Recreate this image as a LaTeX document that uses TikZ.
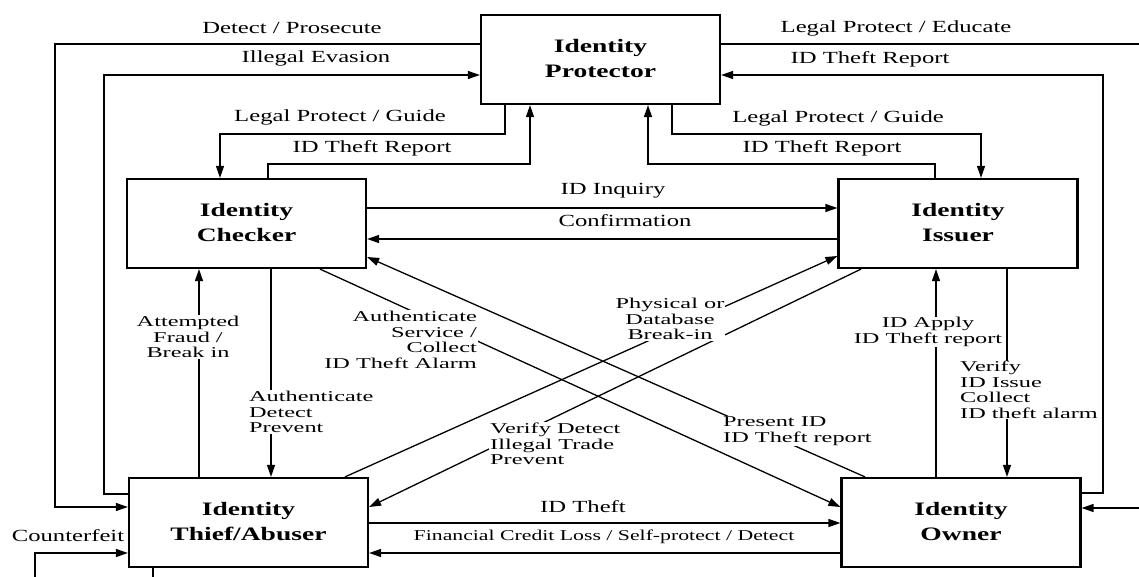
\documentclass[tikz,border=0pt]{standalone}
\usepackage{fontspec}
\setmainfont{Liberation Serif}[FakeStretch=1.45]
\newfontfamily\labfont{Liberation Serif}[FakeStretch=1.62]
\usetikzlibrary{arrows.meta}
\begin{document}
\begin{tikzpicture}[x=1pt,y=-1pt,
  box/.style={draw, line width=2.2pt, minimum width=239pt, minimum height=89pt, inner sep=0pt, align=center, font=\fontsize{19}{26}\selectfont\bfseries},
  conn/.style={line width=1.3pt},
  arr/.style={conn, -{Triangle[length=12pt,width=8pt]}},
  lab/.style={font=\fontsize{17}{14.5}\selectfont, fill=white, inner sep=1pt},
  mlab/.style={font=\labfont\fontsize{15}{15.5}\selectfont, fill=white, inner sep=1pt},
]
\useasboundingbox (0,0) rectangle (1139,577);
% boxes
\node[box] (P) at (600.5,59.5) {\raisebox{3pt}{\begin{tabular}{c}Identity\\[-1pt]Protector\end{tabular}}};
\node[box] (C) at (246.5,223.5) {\raisebox{3pt}{\begin{tabular}{c}Identity\\[-1pt]Checker\end{tabular}}};
\node[box] (I) at (958,223.5) {\raisebox{3pt}{\begin{tabular}{c}Identity\\[-1pt]Issuer\end{tabular}}};
\node[box] (T) at (248.5,522.5) {\raisebox{3pt}{\begin{tabular}{c}Identity\\[-1pt]Thief/Abuser\end{tabular}}};
\node[box] (O) at (961,522.5) {\raisebox{3pt}{\begin{tabular}{c}Identity\\[-1pt]Owner\end{tabular}}};
% connectors to/from protector
\draw[arr] (P.west |- 0,44) -- (55,44) |- (T.west |- 0,507);
\draw[arr] (T.west |- 0,494) -- (104,494) |- (P.west |- 0,75);
\draw[arr] (P.south -| 505,0) |- (220,134) -- (C.north -| 220,0);
\draw[arr] (C.north -| 268,0) |- (530,164) -- (P.south -| 530,0);
\draw[arr] (P.south -| 672,0) |- (981,134) -- (I.north -| 981,0);
\draw[arr] (I.north -| 935,0) |- (648,164) -- (P.south -| 648,0);
\draw[arr] (P.east |- 0,44) -- (1150,44) |- (O.east |- 0,508);
\draw[arr] (O.east |- 0,493) -- (1103,493) |- (P.east |- 0,75);
% horizontal
\draw[arr] (C.east |- 0,208) -- (I.west |- 0,208);
\draw[arr] (I.west |- 0,239) -- (C.east |- 0,239);
\draw[arr] (T.east |- 0,523) -- (O.west |- 0,523);
\draw[arr] (O.west |- 0,553) -- (T.east |- 0,553);
% vertical
\draw[arr] (T.north -| 199,0) -- (C.south -| 199,0);
\draw[arr] (C.south -| 271,0) -- (T.north -| 271,0);
\draw[arr] (O.north -| 936,0) -- (I.south -| 936,0);
\draw[arr] (I.south -| 1007,0) -- (O.north -| 1007,0);
% diagonals
\draw[arr] (C.south -| 320,0) -- (O.west |- 0,507);
\draw[arr] (O.north -| 865,0) -- (C.east |- 0,257);
\draw[arr] (T.north -| 345,0) -- (I.west |- 0,256);
\draw[arr] (I.south -| 861,0) -- (T.east |- 0,507);
% self loop
\draw[arr] (T.south -| 153,0) -- (153,595) -- (35,595) |- (T.west |- 0,553);
% labels
\node[lab] (l1) at (292,28) {Detect / Prosecute};
\node[lab] (l2) at (316,58) {Illegal Evasion};
\node[lab] (l3) at (340,117) {Legal Protect / Guide};
\node[lab] (l4) at (372,148) {ID Theft Report};
\node[lab] (l5) at (896,28) {Legal Protect / Educate};
\node[lab] (l6) at (870,59) {ID Theft Report};
\node[lab] (l7) at (838,118) {Legal Protect / Guide};
\node[lab] (l8) at (822,148) {ID Theft Report};
\node[lab] (l9) at (613,191) {ID Inquiry};
\node[lab] (l10) at (625,221) {Confirmation};
\node[lab] (l11) at (583,507) {ID Theft};
\node[lab, font=\fontsize{15}{14}\selectfont] (l12) at (604,537) {Financial Credit Loss / Self-protect / Detect};
\node[lab] (l13) at (68,536) {Counterfeit};
\node[mlab, align=center] (l14) at (188,337) {Attempted\\Fraud /\\Break in};
\node[mlab, align=left, anchor=west] (l15) at (248,412) {Authenticate\\Detect\\Prevent};
\node[mlab, align=right, anchor=east] (l16) at (478,340) {Authenticate\\Service /\\Collect\\ID Theft Alarm};
\node[mlab, align=center] (l17) at (670,319) {Physical or\\Database\\Break-in};
\node[mlab, align=left, anchor=west] (l18) at (489,444) {Verify Detect\\Illegal Trade\\Prevent};
\node[mlab, align=left, anchor=west] (l19) at (722,431) {Present ID\\ID Theft report};
\node[mlab, align=center, inner sep=0pt] (l20) at (928,332) {ID Apply\\ID Theft report};
\node[mlab, align=left, anchor=west, inner sep=0pt] (l21) at (960,390) {Verify\\ID Issue\\Collect\\ID theft alarm};
\end{tikzpicture}
\end{document}
